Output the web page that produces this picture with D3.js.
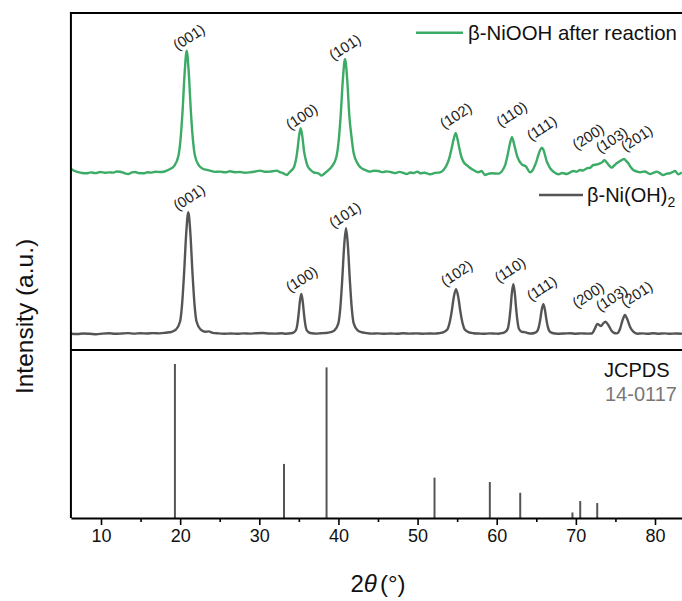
<!DOCTYPE html>
<html><head><meta charset="utf-8">
<script src="https://cdn.jsdelivr.net/npm/d3@7"></script>
<style>
html,body{margin:0;padding:0;background:#fff;}
svg{display:block;font-family:"Liberation Sans",Arial,sans-serif;}
</style></head>
<body>
<svg id="chart" width="682" height="601"></svg>
<script>
// ---------- DATA ----------
// beta-Ni(OH)2 pattern: [2theta, intensity above own baseline (a.u.)]
const niohPattern = [
[6.2,0.3],[7.0,0.0],[7.8,0.5],[8.6,0.2],[9.4,-0.2],[10.2,0.4],[11.0,0.7],[11.8,0.2],[12.6,0.5],[13.4,0.9],[14.2,0.4],[15.0,0.8],[15.8,0.5],[16.6,0.9],[17.4,0.6],[18.2,1.3],
[18.93,2.2],[19.45,4.3],[19.98,12.2],[20.24,29.2],[20.50,60.9],[20.77,101.0],[21.03,121.7],[21.29,101.0],[21.56,60.9],[21.82,29.2],[22.08,12.2],[22.61,4.3],[23.13,2.2],
[23.6,2.6],[24.1,1.2],[24.8,0.6],[25.6,0.3],[26.4,0.5],[27.2,0.2],[28.0,0.6],[28.8,0.4],[29.6,0.8],[30.4,1.0],[31.2,0.5],[32.0,0.4],[32.8,0.7],[33.4,0.3],
[33.97,0.7],[34.31,1.4],[34.64,4.0],[34.81,9.6],[34.97,20],[35.14,33.2],[35.31,40],[35.48,33.2],[35.65,20],[35.81,9.6],[35.98,4.0],[36.31,1.4],[36.65,0.7],
[37.2,0.4],[37.8,0.8],[38.4,1.0],
[39.02,1.9],[39.50,3.7],[39.99,10.6],[40.23,25.4],[40.47,52.9],[40.72,87.7],[40.96,105.7],[41.20,87.7],[41.45,52.9],[41.69,25.4],[41.93,10.6],[42.42,3.7],[42.90,1.9],
[43.5,1.0],[44.2,0.4],[45.0,0.6],[45.8,0.2],[46.6,0.5],[47.4,0.3],[48.2,0.7],[49.0,0.4],[49.8,0.6],[50.6,0.3],[51.4,0.5],[52.1,0.4],
[52.66,0.8],[53.21,1.6],[53.76,4.5],[54.03,10.7],[54.31,22.4],[54.58,37.1],[54.86,44.7],[55.14,37.1],[55.41,22.4],[55.69,10.7],[55.96,4.5],[56.51,1.6],[57.06,0.8],
[57.7,0.5],[58.4,0.2],[59.1,0.6],[59.8,0.4],[60.2,0.3],
[60.66,0.9],[61.02,1.7],[61.38,5.0],[61.56,11.9],[61.74,24.9],[61.92,41.3],[62.10,49.7],[62.28,41.3],[62.46,24.9],[62.64,11.9],[62.82,5.0],[63.18,2.2],[63.54,1.8],
[64.0,0.7],
[64.37,0.5],[64.75,1.0],[65.13,3.0],[65.32,7.1],[65.51,14.9],[65.70,24.7],[65.89,29.7],[66.08,24.7],[66.27,14.9],[66.46,7.1],[66.65,3.0],[67.03,1.0],[67.41,0.5],
[67.9,0.3],[68.6,0.5],[69.3,0.8],[70.0,0.3],[70.7,0.6],[71.4,0.4],
[72.0,0.5],[72.42,5.7],[72.71,10],[72.95,9.0],[73.18,8],[73.45,10.5],[73.73,12.3],[74.1,9],[74.53,3],[74.85,1.0],[75.16,0.6],[75.58,5],[75.87,13],[76.21,19],[76.5,14.7],[76.84,7.3],[77.26,2.3],[77.77,0.3],
[78.4,0.6],[79.1,0.2],[79.8,0.7],[80.5,0.3],[81.2,0.6],[81.9,0.2],[82.6,0.5],[83.4,0.3]
];

// beta-NiOOH after reaction pattern: [2theta, intensity above own baseline (a.u.)]
const nioohPattern = [
[6.2,4.5],[6.6,2.5],[7.1,1.2],[7.6,0.3],[8.2,0.0],[8.7,0.9],[9.3,0.2],[9.9,1.3],[10.5,0.5],[11.0,0.9],[11.6,0.7],[12.0,1.8],[12.4,1.6],[12.9,0.3],[13.45,-0.7],[13.9,0.9],[14.3,1.3],[14.8,0.2],[15.35,0.0],[15.9,1.0],[16.4,0.7],[16.9,1.5],[17.45,1.3],[17.9,1.6],[18.3,2.7],
[18.73,4.3],[19.25,7.4],[19.78,17.2],[20.04,33.1],[20.30,61.3],[20.57,100.5],[20.83,122.6],[21.09,100.5],[21.36,61.3],[21.62,33.1],[21.88,17.2],[22.41,7.4],[22.93,4.3],
[23.36,3.5],[23.77,2.7],[24.4,1.4],[25.04,1.7],[25.7,1.0],[26.3,2.0],[26.9,1.1],[27.56,1.3],[28.2,0.6],[28.83,1.0],[29.5,1.8],[30.09,2.7],[30.7,1.5],[31.35,1.7],[31.8,2.2],[32.2,2.7],[32.6,1.2],[33.04,0.0],[33.46,-1.7],[33.75,0.5],
[33.97,2.2],[34.39,6.3],[34.60,12.2],[34.81,22.5],[35.02,36.9],[35.23,45],[35.44,36.9],[35.65,22.5],[35.86,14],[36.07,8],[36.49,3.3],[36.91,0.8],[37.46,0.0],[37.89,-2.3],[38.2,-0.5],[38.52,1.7],
[39.18,6.9],[39.73,16.0],[40.01,30.9],[40.28,57.2],[40.56,93.7],[40.83,114.3],[41.11,93.7],[41.38,57.2],[41.66,36],[41.93,20],[42.48,9],[43.03,4.5],
[43.5,3.0],[43.98,1.7],[44.5,2.6],[45.05,2.3],[45.6,1.2],[46.1,1.9],[46.7,1.0],[47.2,0.2],[47.7,1.4],[48.2,0.5],[48.63,-0.7],[49.1,0.8],[49.5,0.3],[50.0,1.7],[50.31,0.0],[50.9,0.6],[51.57,-1.0],[52.2,0.4],[52.84,1.0],
[53.3,3.5],[53.68,8.3],[54.0,15],[54.31,25],[54.6,35.5],[54.82,40],[55.05,34],[55.28,25],[55.5,17.5],[55.79,11.7],[56.29,7.7],[56.6,5.5],[57.05,3.3],[57.68,1.0],[58.1,2.3],[58.52,-1.7],[58.9,-0.5],[59.37,0.0],[60.2,-0.3],
[60.83,4.3],[61.1,9],[61.34,16.7],[61.68,30],[61.93,36],[62.22,28.3],[62.6,16.7],[63.15,9],[63.7,6.7],[64.21,1.0],[64.5,2.5],[64.76,6.7],[65.0,11.5],[65.26,18.3],[65.5,23.5],[65.72,25.7],[65.9,23.5],[66.1,18.3],[66.3,12.5],[66.53,8.3],[66.8,4.5],[67.16,1.7],[67.79,-1.0],
[68.3,0.3],[68.84,-0.7],[69.3,1.0],[69.68,2.3],[70.1,1.6],[70.52,3.3],[70.9,2.8],[71.37,5.0],[71.8,5.5],[72.21,8.3],[72.6,8.8],[73.05,10],[73.35,11.2],[73.6,13],[73.98,10],[74.25,7.5],[74.53,5.7],[74.85,7.8],[75.16,10],[75.6,12.3],[76.09,14.3],[76.35,12.5],[76.63,10],[76.95,6],[77.26,3.3],[77.7,1.8],[78.1,1.0],[78.7,1.8],[79.37,-0.7],[79.8,0.5],[80.21,1.7],[80.6,0.2],[81.05,-1.7],[81.5,-0.3],[81.9,0.0],[82.2,1.2],[82.53,2.3],[82.95,-1.0],[83.4,1.0]
];

// JCPDS 14-0117 reference lines
const jcpdsPos = [19.34, 33.12, 38.50, 52.14, 59.13, 62.97, 69.57, 70.55, 72.70];
const jcpdsInt = [100, 35.1, 97.8, 26.2, 23.4, 16.4, 3.6, 11.0, 9.7];

// peak labels (Miller indices) with annotation anchors in data units
const hklLabels = ["(001)","(100)","(101)","(102)","(110)","(111)","(200)","(103)","(201)"];
const niohLabel2t  = [21.14, 35.36, 40.83, 54.94, 61.68, 65.69, 71.57, 74.53, 77.69];
const niohLabelI   = [136.5, 54.8, 119.0, 60.6, 64.0, 45.6, 39.0, 35.6, 39.8];
const nioohLabel2t = [21.12, 35.36, 40.83, 54.83, 61.90, 65.69, 71.57, 74.53, 77.69];
const nioohLabelI  = [136.1, 56.6, 126.1, 57.6, 59.1, 45.1, 36.6, 33.3, 34.9];

const xMajorTicks = [10, 20, 30, 40, 50, 60, 70, 80];
const xMinorTicks = [15, 25, 35, 45, 55, 65, 75];
const xDomain = [6.2, 84];

// stacking offsets (a.u.) for the upper panel
const niohOffset = 16;
const nioohOffset = 176.7;

// ---------- DRAW ----------
(function () {
const svg = d3.select("#chart");
const pTop = 13, pMid = 350, pBottom = 518;
const x = d3.scaleLinear().domain([10, 80]).range([101, 655]);
const xLeft = x(xDomain[0]), xRight = x(xDomain[1]);
const yTop = d3.scaleLinear().domain([0, pMid - pTop]).range([pMid, pTop]);
const yBot = d3.scaleLinear().domain([0, 100]).range([pBottom, 364]);

const green = "#3bab66", gray = "#555555";

svg.append("defs").append("clipPath").attr("id","clipTop")
  .append("rect").attr("x", xLeft).attr("y", pTop).attr("width", xRight - xLeft).attr("height", pMid - pTop);

const line = off => d3.line()
  .x(d => x(d[0]))
  .y(d => yTop(d[1] + off))
  .curve(d3.curveMonotoneX);

const gTop = svg.append("g").attr("clip-path","url(#clipTop)");
gTop.append("path").datum(nioohPattern)
  .attr("d", line(nioohOffset)).attr("fill","none").attr("stroke", green)
  .attr("stroke-width", 2.4).attr("stroke-linejoin","round");
gTop.append("path").datum(niohPattern)
  .attr("d", line(niohOffset)).attr("fill","none").attr("stroke", gray)
  .attr("stroke-width", 2.4).attr("stroke-linejoin","round");

// JCPDS sticks
svg.append("g").selectAll("line").data(jcpdsPos).join("line")
  .attr("x1", d => x(d)).attr("x2", d => x(d))
  .attr("y1", yBot(0)).attr("y2", (d,i) => yBot(jcpdsInt[i]))
  .attr("stroke", gray).attr("stroke-width", 2);

// peak labels
function labels(xs, ys, off) {
  svg.append("g").selectAll("text").data(hklLabels).join("text")
    .attr("transform", (d,i) => `translate(${x(xs[i])},${yTop(ys[i] + off)}) rotate(-33)`)
    .attr("text-anchor","middle").attr("dominant-baseline","central")
    .attr("font-size", 14.8).attr("fill","#222").text(d => d);
}
labels(nioohLabel2t, nioohLabelI, nioohOffset);
labels(niohLabel2t, niohLabelI, niohOffset);

// frame
const frame = svg.append("g").attr("stroke","#000").attr("stroke-width",2).attr("fill","none");
frame.append("line").attr("x1", xLeft).attr("x2", xLeft).attr("y1", pTop - 1).attr("y2", pBottom);
frame.append("line").attr("x1", xLeft - 1).attr("x2", xRight).attr("y1", pTop).attr("y2", pTop);
frame.append("line").attr("x1", xLeft).attr("x2", xRight).attr("y1", pMid).attr("y2", pMid);

// x axis
const xs = d3.scaleLinear().domain(xDomain).range([xLeft, xRight]);
const axMaj = svg.append("g").attr("transform", `translate(0,${pBottom})`)
  .call(d3.axisBottom(xs).tickValues(xMajorTicks).tickSize(7).tickSizeOuter(0).tickPadding(4).tickFormat(d3.format("d")));
axMaj.select(".domain").attr("stroke-width", 2);
axMaj.selectAll(".tick line").attr("stroke-width", 1.6);
axMaj.selectAll(".tick text").attr("font-size", 18).attr("fill","#111")
  .attr("font-family", '"Liberation Sans",Arial,sans-serif');
const axMin = svg.append("g").attr("transform", `translate(0,${pBottom})`)
  .call(d3.axisBottom(xs).tickValues(xMinorTicks).tickSize(4).tickSizeOuter(0).tickFormat(""));
axMin.select(".domain").remove();
axMin.selectAll(".tick line").attr("stroke-width", 1.6);

// axis titles
const xt = svg.append("text").attr("x", 378).attr("y", 592).attr("text-anchor","middle")
  .attr("font-size", 24).attr("fill","#111");
xt.append("tspan").text("2");
xt.append("tspan").attr("font-style","italic").text("θ");
xt.append("tspan").attr("dx", 3).text("(°)");

svg.append("text").attr("transform","translate(33,316.5) rotate(-90)")
  .attr("text-anchor","middle").attr("font-size", 24.5).attr("fill","#111")
  .text("Intensity (a.u.)");

// legends
svg.append("line").attr("x1",416).attr("x2",463).attr("y1",32.7).attr("y2",32.7)
  .attr("stroke", green).attr("stroke-width", 2.4);
svg.append("text").attr("x", 468).attr("y", 39.5).attr("font-size", 20.4).attr("fill","#111")
  .text("β-NiOOH after reaction");
svg.append("line").attr("x1",539).attr("x2",583).attr("y1",195).attr("y2",195)
  .attr("stroke", gray).attr("stroke-width", 2.4);
const lg = svg.append("text").attr("x", 587).attr("y", 201.5).attr("font-size", 20).attr("fill","#111");
lg.append("tspan").text("β-Ni(OH)");
lg.append("tspan").attr("font-size", 14).attr("dy", 5).text("2");

svg.append("text").attr("x", 604).attr("y", 376.7).attr("font-size", 20).attr("fill","#111").text("JCPDS");
svg.append("text").attr("x", 605).attr("y", 400.7).attr("font-size", 20).attr("fill","#777").text("14-0117");
})();
</script>
</body></html>
